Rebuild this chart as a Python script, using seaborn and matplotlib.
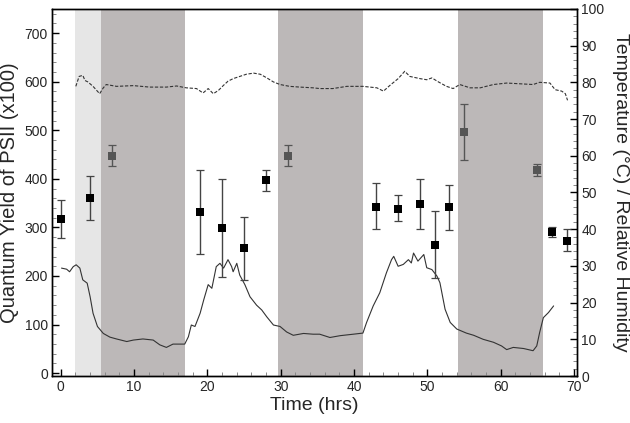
import matplotlib
matplotlib.use("Agg")
import matplotlib.pyplot as plt
import seaborn as sns
import numpy as np
import pandas as pd
from matplotlib.ticker import MultipleLocator

sns.set_theme(style="white")
plt.rcParams['font.family'] = ['Liberation Sans', 'DejaVu Sans']

# Quantum yield points (left axis)
pt_time = [0, 4, 7, 19, 22, 25, 28, 31, 43, 46, 49, 51, 53, 55, 65, 67, 69]
pt_val = [318, 360, 448, 332, 299, 258, 397, 448, 342, 338, 348, 264, 342, 497, 418, 290, 273]
pt_lo = [278, 315, 427, 246, 197, 192, 376, 427, 296, 313, 297, 196, 295, 439, 405, 280, 251]
pt_hi = [357, 405, 470, 418, 400, 322, 418, 470, 392, 366, 399, 333, 388, 555, 431, 301, 297]
pt_dark = [False, False, True, False, False, False, False, True, False, False, False, False, False, True, True, False, False]

# Solid trace (right axis)
sol_time = [0.1, 0.8, 1.2, 1.7, 2.1, 2.6, 3.0, 3.6, 4.0, 4.4, 5.0, 5.8, 6.7, 7.6, 9.0, 9.9, 11.2, 12.6,
            13.5, 14.4, 15.3, 16.2, 16.9, 17.4, 17.8, 18.3, 19.0, 19.5, 20.1, 20.6, 21.2, 21.7, 22.2,
            22.8, 23.3, 23.5, 24.0, 24.4, 25.1, 25.8, 26.7, 27.4, 28.1, 29.0, 29.9, 30.8, 31.7, 33.1,
            34.4, 35.3, 36.7, 38.1, 39.9, 41.2, 41.7, 42.6, 43.5, 44.4, 45.1, 45.4, 46.0, 46.7, 47.4,
            47.8, 48.1, 48.7, 49.5, 49.9, 50.6, 51.3, 51.7, 52.4, 53.1, 54.0, 55.3, 56.3, 57.6, 59.0,
            60.1, 60.8, 61.7, 63.1, 64.4, 64.9, 65.3, 65.8, 66.5, 67.2]
sol_val = [29.4, 29.1, 28.4, 29.8, 30.3, 29.4, 26.2, 25.3, 21.6, 17.1, 13.5, 11.6, 10.6, 10.1, 9.4, 9.8,
           10.1, 9.8, 8.5, 7.8, 8.7, 8.7, 8.7, 10.7, 13.9, 13.5, 17.1, 20.8, 24.9, 23.9, 29.8, 30.7,
           29.4, 31.7, 29.8, 28.4, 30.7, 27.5, 24.9, 21.6, 19.3, 18.0, 16.1, 13.9, 13.5, 12.0, 11.1,
           11.6, 11.4, 11.4, 10.5, 11.0, 11.4, 11.7, 14.6, 19.1, 22.7, 28.1, 31.7, 32.6, 29.9, 30.4,
           31.7, 30.8, 33.5, 31.3, 33.1, 29.5, 29.0, 27.2, 25.4, 18.2, 14.6, 12.8, 11.7, 11.1, 10.0,
           9.2, 8.2, 7.2, 7.8, 7.5, 6.9, 8.2, 11.9, 15.9, 17.3, 19.1]

# Dashed trace (right axis)
dash_time = [2.05, 2.5, 3.0, 3.3, 3.7, 4.4, 5.3, 5.8, 6.2, 7.6, 9.9, 12.1, 14.4, 15.8, 17.1, 18.5, 19.4,
             20.1, 20.8, 21.5, 22.2, 22.8, 23.5, 24.4, 25.3, 26.3, 27.2, 28.1, 29.0, 29.9, 31.2, 32.6,
             34.4, 35.3, 37.1, 39.0, 41.2, 43.1, 44.0, 44.9, 46.0, 46.9, 47.6, 49.0, 49.9, 50.6, 51.5,
             52.6, 53.5, 54.4, 55.8, 57.2, 59.0, 60.8, 62.6, 64.4, 65.3, 66.7, 67.4, 68.3, 68.8, 69.1]
dash_val = [78.9, 81.6, 81.9, 80.5, 80.1, 78.9, 76.9, 78.5, 79.4, 78.9, 79.1, 78.7, 78.7, 79.0, 78.5,
            78.3, 77.1, 78.3, 76.9, 77.8, 79.2, 80.3, 81.0, 81.6, 82.2, 82.5, 82.2, 81.2, 80.1, 79.4,
            78.9, 78.7, 78.5, 78.3, 78.3, 78.9, 78.9, 78.5, 77.6, 79.2, 81.0, 83.0, 81.6, 81.0, 80.7,
            81.2, 80.1, 78.9, 78.3, 79.4, 78.5, 78.5, 79.4, 79.8, 79.6, 79.4, 80.0, 79.8, 78.0, 77.6,
            76.9, 75.1]

# Shaded periods
light_spans = [(1.9, 5.45)]
dark_spans = [(5.45, 17.0), (29.6, 41.2), (54.2, 65.7)]

fig = plt.figure(figsize=(6.3, 4.23), dpi=100)
ax = fig.add_axes([0.0825, 0.111, 0.8335, 0.868])
ax2 = ax.twinx()

for a, b in light_spans:
    ax2.axvspan(a, b, color='#e6e6e6', lw=0, zorder=0)
for a, b in dark_spans:
    ax2.axvspan(a, b, color='#bcb8b8', lw=0, zorder=0)

sol = pd.DataFrame({'t': sol_time, 'v': sol_val})
dsh = pd.DataFrame({'t': dash_time, 'v': dash_val})
sns.lineplot(data=sol, x='t', y='v', ax=ax2, color='#333333', lw=0.8, zorder=2)
sns.lineplot(data=dsh, x='t', y='v', ax=ax2, color='#333333', lw=0.8, linestyle=(0, (3, 1.5)), zorder=2)

df = pd.DataFrame({'t': pt_time, 'v': pt_val, 'lo': pt_lo, 'hi': pt_hi, 'dark': pt_dark})
for dark, sub in df.groupby('dark'):
    col = '#555555' if dark else '#000000'
    ax.errorbar(sub['t'], sub['v'], yerr=[sub['v'] - sub['lo'], sub['hi'] - sub['v']],
                fmt='none', ecolor='#555555' if dark else '#444444', elinewidth=1.0,
                capsize=3, capthick=0.9, zorder=3)
    sns.scatterplot(data=sub, x='t', y='v', ax=ax, marker='s', s=28, color=col,
                    edgecolor=col, linewidth=0, zorder=4, legend=False)

ax.set_zorder(ax2.get_zorder() + 1)
ax.patch.set_visible(False)

ax.set_xlim(-1.2, 70.4)
ax.set_ylim(-6, 750)
ax2.set_ylim(0, 100)

ax.xaxis.set_major_locator(MultipleLocator(10))
ax.xaxis.set_minor_locator(MultipleLocator(2))
ax.yaxis.set_major_locator(MultipleLocator(100))
ax.yaxis.set_minor_locator(MultipleLocator(20))
ax2.yaxis.set_major_locator(MultipleLocator(10))
ax2.yaxis.set_minor_locator(MultipleLocator(2))

for a in (ax, ax2):
    for s in a.spines.values():
        s.set_color('black')
        s.set_linewidth(1.0)
ax.tick_params(axis='both', which='major', direction='in', length=5, width=1, color='black',
               labelsize=10, pad=3, bottom=True, left=True, top=False, right=False)
ax.tick_params(axis='both', which='minor', direction='in', length=3, width=0.7, color='#888888',
               bottom=True, left=True, top=False, right=False)
ax2.tick_params(axis='y', which='major', direction='in', length=5, width=1, color='black',
                labelsize=10, pad=3, right=True)
ax2.tick_params(axis='y', which='minor', direction='in', length=3, width=0.7, color='#888888', right=True)

ax.set_xlabel('Time (hrs)', fontsize=14, labelpad=2)
ax.set_ylabel('Quantum Yield of PSII (x100)', fontsize=14.5, labelpad=4)
ax2.set_ylabel('Temperature (°C) / Relative Humidity', fontsize=14, rotation=270, labelpad=18)

fig.savefig('out.png', dpi=100)
